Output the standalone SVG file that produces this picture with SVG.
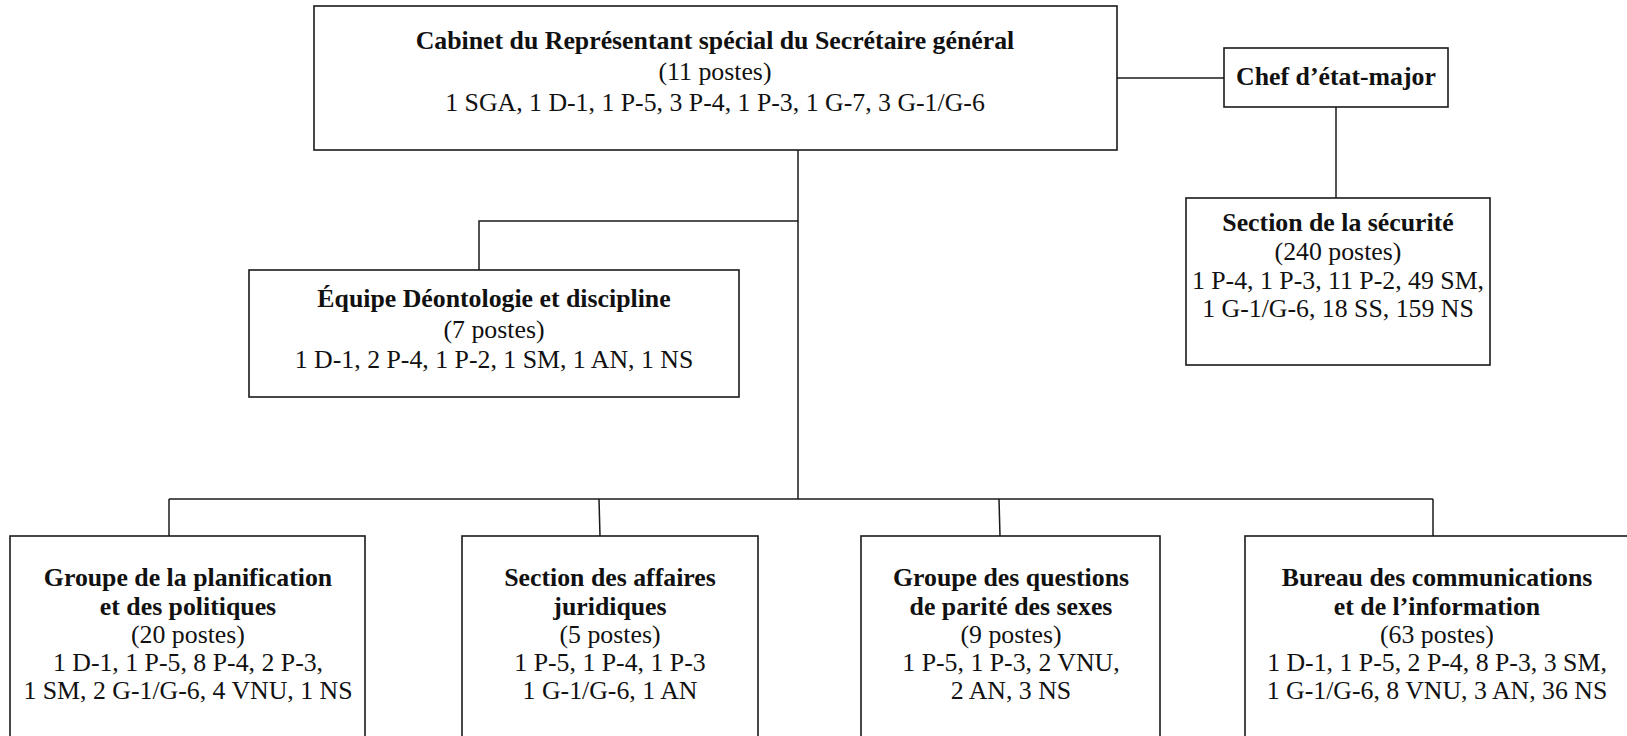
<svg xmlns="http://www.w3.org/2000/svg" width="1627" height="736" viewBox="0 0 1627 736">
  <style>
    .box { fill: #ffffff; stroke: #1a1a1a; stroke-width: 1.6; }
    .wire { fill: none; stroke: #1a1a1a; stroke-width: 1.5; }
    .lbl { font-size: 25.8px; fill: #111111; text-anchor: middle; }
    .t { font-weight: bold; }
  </style>
  <rect width="1627" height="736" fill="#ffffff"/>

  <!-- connectors -->
  <g id="connectors">
    <line class="wire" x1="1117" y1="78" x2="1224" y2="78"/>
    <line class="wire" x1="1336" y1="107" x2="1336" y2="198"/>
    <line class="wire" x1="798" y1="150" x2="798" y2="499"/>
    <polyline class="wire" points="798,221 479,221 479,270"/>
    <line class="wire" x1="169" y1="499" x2="1433" y2="499"/>
    <line class="wire" x1="169" y1="499" x2="169" y2="536"/>
    <line class="wire" x1="599" y1="499" x2="600" y2="536"/>
    <line class="wire" x1="999" y1="499" x2="1000" y2="536"/>
    <line class="wire" x1="1433" y1="499" x2="1433" y2="536"/>
  </g>

  <g class="lbl" font-family="'Liberation Serif', 'Times New Roman', serif">
  <!-- Cabinet du RSSG -->
  <g id="cabinet">
    <rect class="box" x="314" y="6" width="803" height="144"/>
    <text class="t" x="715" y="49">Cabinet du Représentant spécial du Secrétaire général</text>
    <text x="715" y="80">(11 postes)</text>
    <text x="715" y="111">1 SGA, 1 D-1, 1 P-5, 3 P-4, 1 P-3, 1 G-7, 3 G-1/G-6</text>
  </g>

  <!-- Chef d'état-major -->
  <g id="chef">
    <rect class="box" x="1224" y="48" width="224" height="59"/>
    <text class="t" x="1336" y="85">Chef d’état-major</text>
  </g>

  <!-- Section de la sécurité -->
  <g id="securite">
    <rect class="box" x="1186" y="198" width="304" height="167"/>
    <text class="t" x="1338" y="231">Section de la sécurité</text>
    <text x="1338" y="260">(240 postes)</text>
    <text x="1338" y="289">1 P-4, 1 P-3, 11 P-2, 49 SM,</text>
    <text x="1338" y="317">1 G-1/G-6, 18 SS, 159 NS</text>
  </g>

  <!-- Équipe Déontologie et discipline -->
  <g id="deontologie">
    <rect class="box" x="249" y="270" width="490" height="127"/>
    <text class="t" x="494" y="307">Équipe Déontologie et discipline</text>
    <text x="494" y="338">(7 postes)</text>
    <text x="494" y="368">1 D-1, 2 P-4, 1 P-2, 1 SM, 1 AN, 1 NS</text>
  </g>

  <!-- Groupe de la planification et des politiques -->
  <g id="planification">
    <rect class="box" x="10" y="536" width="355" height="210"/>
    <text class="t" x="188" y="586">Groupe de la planification</text>
    <text class="t" x="188" y="615">et des politiques</text>
    <text x="188" y="643">(20 postes)</text>
    <text x="188" y="671">1 D-1, 1 P-5, 8 P-4, 2 P-3,</text>
    <text x="188" y="699">1 SM, 2 G-1/G-6, 4 VNU, 1 NS</text>
  </g>

  <!-- Section des affaires juridiques -->
  <g id="juridiques">
    <rect class="box" x="462" y="536" width="296" height="210"/>
    <text class="t" x="610" y="586">Section des affaires</text>
    <text class="t" x="610" y="615">juridiques</text>
    <text x="610" y="643">(5 postes)</text>
    <text x="610" y="671">1 P-5, 1 P-4, 1 P-3</text>
    <text x="610" y="699">1 G-1/G-6, 1 AN</text>
  </g>

  <!-- Groupe des questions de parité des sexes -->
  <g id="parite">
    <rect class="box" x="861" y="536" width="299" height="210"/>
    <text class="t" x="1011" y="586">Groupe des questions</text>
    <text class="t" x="1011" y="615">de parité des sexes</text>
    <text x="1011" y="643">(9 postes)</text>
    <text x="1011" y="671">1 P-5, 1 P-3, 2 VNU,</text>
    <text x="1011" y="699">2 AN, 3 NS</text>
  </g>

  <!-- Bureau des communications et de l'information -->
  <g id="communications">
    <rect class="box" x="1245" y="536" width="390" height="210"/>
    <text class="t" x="1437" y="586">Bureau des communications</text>
    <text class="t" x="1437" y="615">et de l’information</text>
    <text x="1437" y="643">(63 postes)</text>
    <text x="1437" y="671">1 D-1, 1 P-5, 2 P-4, 8 P-3, 3 SM,</text>
    <text x="1437" y="699">1 G-1/G-6, 8 VNU, 3 AN, 36 NS</text>
  </g>
  </g>
</svg>
